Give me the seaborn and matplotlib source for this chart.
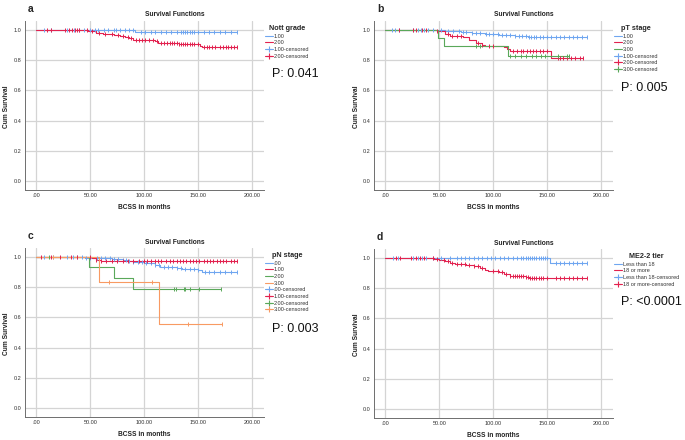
import numpy as np
import pandas as pd
import matplotlib
matplotlib.use("Agg")
import matplotlib.pyplot as plt
import seaborn as sns
from matplotlib.lines import Line2D

# colours of the groups (SPSS like)
BLUE = "#6fa6f0"
RED = "#e2224f"
GREEN = "#5aa85a"
ORANGE = "#f89a62"

# ---- panel a : Nott grade ----
a_g1_t = [91]
a_g1_s = [0.983]
a_g1_end = 186
a_g1_c = [7, 14, 28, 35, 40, 44, 50, 54, 57, 63, 66, 72, 74, 78, 82, 86, 90, 97, 101, 106, 110,
          116, 120, 125, 130, 134, 136, 138, 140, 142, 144, 146, 150, 155, 160, 165, 170, 175, 180, 186]
a_g2_t = [45, 48, 55, 62, 72, 78, 82, 86, 90, 95, 110, 113, 118, 132, 152, 154]
a_g2_s = [0.995, 0.99, 0.98, 0.97, 0.965, 0.96, 0.95, 0.945, 0.935, 0.93, 0.925, 0.915, 0.91, 0.903, 0.895, 0.886]
a_g2_end = 186
a_g2_c = [10, 14, 27, 30, 33, 36, 38, 40, 47, 52, 58, 64, 70, 76, 80, 85, 88, 92, 95, 98, 101, 104,
          108, 112, 116, 118, 121, 124, 126, 128, 130, 132, 134, 136, 138, 140, 142, 144, 146, 150,
          155, 158, 160, 163, 166, 170, 173, 176, 178, 180, 183, 186]

# ---- panel b : pT stage ----
b_g1_t = [45, 55, 70, 80, 92, 105, 110, 120, 132, 134]
b_g1_s = [0.995, 0.99, 0.985, 0.98, 0.972, 0.968, 0.963, 0.958, 0.953, 0.949]
b_g1_end = 187
b_g1_c = [6, 9, 13, 26, 30, 33, 36, 40, 44, 52, 58, 63, 68, 72, 75, 80, 84, 88, 93, 96, 100, 104,
          108, 112, 116, 120, 124, 127, 130, 133, 135, 138, 140, 143, 146, 150, 154, 158, 162, 166,
          170, 174, 178, 182, 187]
b_g2_t = [35, 48, 55, 60, 72, 78, 84, 90, 92, 110, 113, 116, 154]
b_g2_s = [0.995, 0.99, 0.97, 0.96, 0.95, 0.93, 0.915, 0.9, 0.889, 0.885, 0.87, 0.86, 0.816]
b_g2_end = 183
b_g2_c = [13, 26, 28, 34, 38, 48, 58, 62, 66, 70, 86, 90, 96, 100, 118, 122, 126, 128, 131, 134,
          137, 140, 143, 146, 150, 160, 162, 165, 168, 172, 176, 180, 183]
b_g3_t = [49, 54, 114]
b_g3_s = [0.944, 0.889, 0.829]
b_g3_end = 170
b_g3_c = [84, 88, 116, 120, 126, 130, 136, 140, 144, 148, 160, 168, 170]

# ---- panel c : pN stage ----
c_g0_t = [40, 45, 55, 70, 80, 85, 90, 100, 110, 115, 120, 130, 135, 150, 154]
c_g0_s = [0.997, 0.994, 0.99, 0.985, 0.98, 0.97, 0.962, 0.955, 0.945, 0.935, 0.93, 0.925, 0.92, 0.915, 0.898]
c_g0_end = 186
c_g0_c = [7, 15, 28, 34, 38, 42, 46, 50, 56, 60, 64, 68, 72, 76, 80, 83, 86, 90, 94, 98, 102, 106,
          110, 114, 118, 122, 126, 130, 134, 138, 142, 146, 150, 156, 160, 165, 170, 175, 180, 186]
c_g1_t = [50, 52, 55, 60]
c_g1_s = [0.995, 0.99, 0.98, 0.969]
c_g1_end = 186
c_g1_c = [4, 14, 22, 32, 38, 50, 55, 60, 65, 70, 75, 80, 85, 90, 95, 100, 103, 106, 110, 113, 116,
          120, 124, 127, 130, 133, 136, 139, 142, 145, 148, 151, 155, 158, 161, 164, 167, 170, 173,
          176, 180, 183, 186]
c_g2_t = [49, 72, 90]
c_g2_s = [0.929, 0.857, 0.786]
c_g2_end = 171
c_g2_c = [12, 128, 129, 137, 138, 142, 151, 171]
c_g3_t = [58, 114]
c_g3_s = [0.833, 0.556]
c_g3_end = 172
c_g3_c = [15, 67, 107, 141, 172]

# ---- panel d : ME2-2 tier ----
d_g1_t = [153]
d_g1_s = [0.966]
d_g1_end = 187
d_g1_c = [7, 12, 26, 30, 34, 38, 44, 52, 60, 66, 70, 74, 78, 82, 86, 90, 94, 98, 102, 106, 110, 114,
          118, 122, 126, 128, 130, 132, 134, 136, 138, 140, 142, 144, 146, 148, 150, 158, 162, 166,
          170, 174, 178, 182, 187]
d_g2_t = [43, 45, 50, 55, 60, 65, 75, 82, 88, 92, 95, 105, 110, 116, 130, 133]
d_g2_s = [0.997, 0.993, 0.985, 0.975, 0.965, 0.958, 0.952, 0.943, 0.932, 0.92, 0.91, 0.903, 0.893, 0.88, 0.875, 0.867]
d_g2_end = 187
d_g2_c = [10, 14, 24, 28, 32, 36, 44, 48, 54, 58, 62, 66, 70, 74, 78, 82, 86, 90, 100, 104, 108,
          112, 116, 118, 120, 122, 124, 126, 128, 130, 132, 134, 136, 138, 140, 142, 144, 146, 150,
          158, 162, 166, 170, 174, 178, 182, 187]

x_ticks = [0, 50, 100, 150, 200]
x_ticklabels = [".00", "50.00", "100.00", "150.00", "200.00"]
y_ticks = [0.0, 0.2, 0.4, 0.6, 0.8, 1.0]

panels = [
    dict(letter="a", title="Nott grade", p="P: 0.041",
         groups=[("1.00", BLUE, a_g1_t, a_g1_s, a_g1_end, a_g1_c),
                 ("2.00", RED, a_g2_t, a_g2_s, a_g2_end, a_g2_c)]),
    dict(letter="b", title="pT stage", p="P: 0.005",
         groups=[("1.00", BLUE, b_g1_t, b_g1_s, b_g1_end, b_g1_c),
                 ("2.00", RED, b_g2_t, b_g2_s, b_g2_end, b_g2_c),
                 ("3.00", GREEN, b_g3_t, b_g3_s, b_g3_end, b_g3_c)]),
    dict(letter="c", title="pN stage", p="P: 0.003",
         groups=[(".00", BLUE, c_g0_t, c_g0_s, c_g0_end, c_g0_c),
                 ("1.00", RED, c_g1_t, c_g1_s, c_g1_end, c_g1_c),
                 ("2.00", GREEN, c_g2_t, c_g2_s, c_g2_end, c_g2_c),
                 ("3.00", ORANGE, c_g3_t, c_g3_s, c_g3_end, c_g3_c)]),
    dict(letter="d", title="ME2-2 tier", p="P: <0.0001",
         groups=[("Less than 18", BLUE, d_g1_t, d_g1_s, d_g1_end, d_g1_c),
                 ("18 or more", RED, d_g2_t, d_g2_s, d_g2_end, d_g2_c)]),
]

sns.set_theme(style="white")
plt.rcParams["font.family"] = ["Liberation Sans", "DejaVu Sans"]

W, H = 685, 440
fig = plt.figure(figsize=(W / 100, H / 100), dpi=100)
fig.patch.set_facecolor("white")

# pixel layout of the four chart blocks (left, top of axes)
boxes = [(25, 21), (374, 21), (25, 248), (374, 249)]
ax_w, ax_h = 239, 169


def px(x, y):
    return x / W, 1 - y / H


def step_value(t, times, surv):
    i = np.searchsorted(times, t, side="right")
    return 1.0 if i == 0 else surv[i - 1]


for panel, (left, top) in zip(panels, boxes):
    ax = fig.add_axes([left / W, 1 - (top + ax_h) / H, ax_w / W, ax_h / H])
    handles_line, handles_cens, labels_line, labels_cens = [], [], [], []
    for name, col, times, surv, end, cens in panel["groups"]:
        xs = [0] + list(times) + [end]
        ys = [1.0] + list(surv) + [surv[-1]]
        df = pd.DataFrame({"t": xs, "s": ys})
        sns.lineplot(data=df, x="t", y="s", color=col, lw=0.8, drawstyle="steps-post",
                     ax=ax, legend=False, zorder=3)
        cdf = pd.DataFrame({"t": cens, "s": [step_value(c, times, surv) for c in cens]})
        sns.scatterplot(data=cdf, x="t", y="s", color=col, marker="|", s=6, linewidth=0.7,
                        ax=ax, legend=False, zorder=4)
        handles_line.append(Line2D([], [], color=col, lw=0.8))
        labels_line.append(name)
        handles_cens.append(Line2D([], [], color=col, lw=0.8, marker="+", markersize=5, mew=0.8))
        labels_cens.append(name + "-censored")

    ax.set_xlim(-10.5, 211)
    ax.set_ylim(-0.057, 1.057)
    ax.set_xticks(x_ticks)
    ax.set_xticklabels(x_ticklabels)
    ax.set_yticks(y_ticks)
    ax.set_yticklabels([f"{v:.1f}" for v in y_ticks])
    ax.tick_params(labelsize=4.0, length=0, pad=2.5, colors="#333333")
    ax.grid(True, color="#d4d4d4", lw=0.9)
    ax.set_axisbelow(True)
    for s in ["top", "right"]:
        ax.spines[s].set_visible(False)
    for s in ["left", "bottom"]:
        ax.spines[s].set_color("#6e6e6e")
        ax.spines[s].set_linewidth(0.7)
    ax.set_xlabel("")
    ax.set_ylabel("")

    leg = ax.legend(handles_line + handles_cens, labels_line + labels_cens,
                    title=panel["title"], loc="upper left", bbox_to_anchor=(0.995, 0.99),
                    frameon=False, fontsize=4.0, title_fontsize=5.2, handlelength=1.4,
                    handletextpad=0.2, labelspacing=0.3, borderaxespad=0.0)
    leg.get_title().set_fontweight("bold")
    for t in leg.get_texts():
        t.set_color("#333333")

    # texts around the chart
    n = len(panel["groups"]) * 2
    fig.text(*px(left + 3, top - 12), panel["letter"], fontsize=7.5, fontweight="bold",
             ha="left", va="center")
    fig.text(*px(left + 150, top - 6), "Survival Functions", fontsize=4.8, fontweight="bold",
             ha="center", va="center", color="#222222")
    fig.text(*px(left + 119, top + ax_h + 17), "BCSS in months", fontsize=4.8,
             fontweight="bold", ha="center", va="center", color="#222222")
    fig.text(*px(left - 18, top + 86), "Cum Survival", fontsize=4.8, fontweight="bold",
             rotation=90, ha="center", va="center", color="#222222")
    fig.text(*px(left + 247, top + 23 + n * 7 + 2), panel["p"], fontsize=9,
             ha="left", va="center", color="#111111")

fig.savefig("out.png", dpi=100, facecolor="white")
